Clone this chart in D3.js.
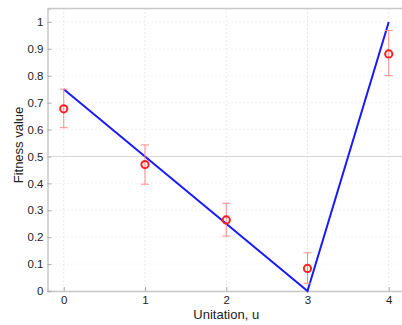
<!DOCTYPE html>
<html><head><meta charset="utf-8">
<script src="https://cdn.jsdelivr.net/npm/d3@7"></script>
<style>body{margin:0;background:#fff;} svg{display:block;font-family:"Liberation Sans",Arial,sans-serif;}</style>
</head><body>
<svg id="c" width="402" height="325"></svg>
<script>
const unitation = [0, 1, 2, 3, 4];
const meanFitness = [0.677, 0.47, 0.264, 0.084, 0.881];
const errLow = [0.607, 0.397, 0.204, 0.029, 0.80];
const errHigh = [0.75, 0.543, 0.326, 0.142, 0.968];
const modelFitness = [0.75, 0.5, 0.25, 0, 1];
const xTicks = [0, 1, 2, 3, 4];
const yTicks = [0, 0.1, 0.2, 0.3, 0.4, 0.5, 0.6, 0.7, 0.8, 0.9, 1];

const svg = d3.select("#c");
const L = 47.5, T = 8.5, R = 405, B = 291;
const x = d3.scaleLinear().domain([-0.2, 4.2]).range([L, R]);
const y = d3.scaleLinear().domain([0, 1.05]).range([B, T]);
const axisC = "#c8c8c8";

// dotted grids
svg.append("g").selectAll("line").data(xTicks).join("line")
  .attr("x1", d => x(d)).attr("x2", d => x(d)).attr("y1", T).attr("y2", B)
  .attr("stroke", "#d0d0d0").attr("stroke-width", 1).attr("stroke-dasharray", "1,3");
svg.append("g").selectAll("line").data(yTicks).join("line")
  .attr("x1", L).attr("x2", R).attr("y1", d => y(d)).attr("y2", d => y(d))
  .attr("stroke", "#e4e4e4").attr("stroke-width", 1).attr("stroke-dasharray", "1,3");
// 0.5 reference line
svg.append("line").attr("x1", L).attr("x2", R).attr("y1", y(0.5)).attr("y2", y(0.5))
  .attr("stroke", "#d8d8d8").attr("stroke-width", 1);

// axes
const xa = svg.append("g").attr("transform", `translate(0,${B})`)
  .call(d3.axisBottom(x).tickValues(xTicks).tickSize(-4).tickPadding(5).tickFormat(d3.format("d")));
const ya = svg.append("g").attr("transform", `translate(${L},0)`)
  .call(d3.axisLeft(y).tickValues(yTicks).tickSize(-4).tickPadding(4).tickFormat(d => d === 0 || d === 1 ? d3.format("d")(d) : d3.format(".1f")(d)));
svg.append("line").attr("x1", L).attr("x2", R).attr("y1", T).attr("y2", T).attr("stroke", axisC).attr("stroke-width", 1.5);
[xa, ya].forEach(g => {
  g.select(".domain").attr("stroke", axisC).attr("stroke-width", 1.5);
  g.selectAll(".tick line").attr("stroke", "#aaa");
  g.selectAll("text").attr("fill", "#222").attr("font-size", 11.5).attr("font-family", "Liberation Sans,Arial,sans-serif");
});

// model line
svg.append("path").datum(unitation.map((u, i) => [u, modelFitness[i]]))
  .attr("d", d3.line().x(d => x(d[0])).y(d => y(d[1])))
  .attr("fill", "none").attr("stroke", "#1a1aff").attr("stroke-width", 2);

// error bars
const eb = svg.append("g").attr("stroke", "#ff8a8a").attr("stroke-width", 1);
unitation.forEach((u, i) => {
  eb.append("line").attr("x1", x(u)).attr("x2", x(u)).attr("y1", y(errLow[i])).attr("y2", y(errHigh[i]));
  eb.append("line").attr("x1", x(u) - 4).attr("x2", x(u) + 4).attr("y1", y(errLow[i])).attr("y2", y(errLow[i]));
  eb.append("line").attr("x1", x(u) - 4).attr("x2", x(u) + 4).attr("y1", y(errHigh[i])).attr("y2", y(errHigh[i]));
});
svg.append("g").selectAll("circle").data(unitation).join("circle")
  .attr("cx", d => x(d)).attr("cy", (d, i) => y(meanFitness[i])).attr("r", 3.6)
  .attr("fill", "none").attr("stroke", "#ff2020").attr("stroke-width", 2);

// labels
svg.append("text").attr("x", x(2)).attr("y", 318.5).attr("text-anchor", "middle")
  .attr("font-size", 13).attr("fill", "#222").text("Unitation, u");
svg.append("text").attr("transform", `translate(22.5,145) rotate(-90)`).attr("text-anchor", "middle")
  .attr("font-size", 13).attr("fill", "#222").text("Fitness value");
</script>
</body></html>
